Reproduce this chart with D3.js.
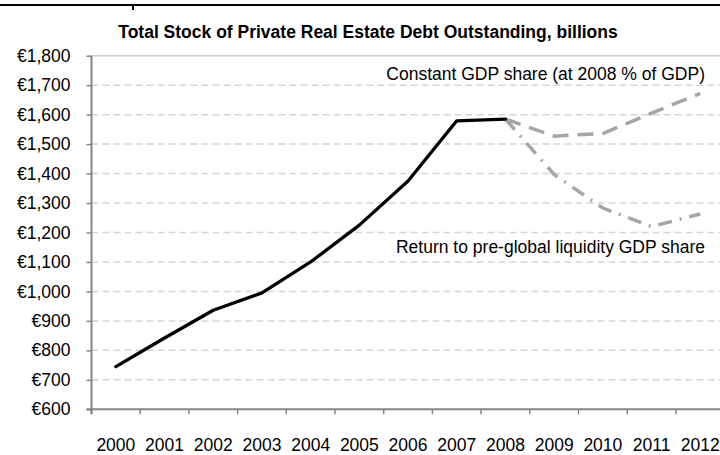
<!DOCTYPE html>
<html>
<head>
<meta charset="utf-8">
<script src="https://cdn.jsdelivr.net/npm/d3@7"></script>
<style>
  html, body { margin: 0; padding: 0; background: #fff; }
  svg { display: block; }
  text { font-family: "Liberation Sans", Arial, sans-serif; fill: #000; }
</style>
</head>
<body>
<svg id="chart" width="720" height="455"></svg>
<script>
// Private real estate debt outstanding, billions of euros
const years = ["2000","2001","2002","2003","2004","2005","2006","2007","2008","2009","2010","2011","2012"];
const actualYears = ["2000","2001","2002","2003","2004","2005","2006","2007","2008"];
const actualValues = [745, 842, 936, 995, 1100, 1225, 1375, 1579, 1585];
const projYears = ["2008","2009","2010","2011","2012"];
const constantShare = [1585, 1527, 1536, 1605, 1672];
const preLiquidityShare = [1585, 1397, 1283, 1220, 1263];
const yTicks = [600, 700, 800, 900, 1000, 1100, 1200, 1300, 1400, 1500, 1600, 1700, 1800];
const title = "Total Stock of Private Real Estate Debt Outstanding, billions";
const labelConstant = "Constant GDP share (at 2008 % of GDP)";
const labelReturn = "Return to pre-global liquidity GDP share";

const svg = d3.select("#chart");
const plotLeft = 91.5, plotBottom = 409.3, plotTop = 55.7, step = 48.7;
const fontFamily = '"Liberation Sans", Arial, sans-serif';
const fontSize = "17.5px";

const x = d3.scaleBand().domain(years).range([plotLeft, plotLeft + step * years.length]).padding(0);
const y = d3.scaleLinear().domain([600, 1800]).range([plotBottom, plotTop]);
const cx = d => x(d) + x.bandwidth() / 2;

// border rule across the top
svg.append("line").attr("x1", 0).attr("x2", 720).attr("y1", 5).attr("y2", 5)
  .attr("stroke", "#000").attr("stroke-width", 2.2);
svg.append("line").attr("x1", 133).attr("x2", 133).attr("y1", 4).attr("y2", 10)
  .attr("stroke", "#000").attr("stroke-width", 2);

// title
svg.append("text").attr("x", 368).attr("y", 38).attr("text-anchor", "middle")
  .style("font-weight", "bold").style("font-size", fontSize).text(title);

// gridlines
svg.append("g").selectAll("line").data(yTicks.filter(t => t > 600)).join("line")
  .attr("x1", plotLeft).attr("x2", 720)
  .attr("y1", d => y(d)).attr("y2", d => y(d))
  .attr("stroke", d => d === 1800 ? "#d0d0d0" : "#d6d6d6")
  .attr("stroke-width", 1.5)
  .attr("stroke-dasharray", d => d === 1800 ? null : "7,4");

// y axis
const yAxis = svg.append("g").attr("transform", `translate(${plotLeft},0)`)
  .call(d3.axisLeft(y).tickValues(yTicks).tickSize(5).tickPadding(16)
    .tickFormat(d => "€" + d3.format(",")(d)));
yAxis.select(".domain").remove();
yAxis.selectAll(".tick line").attr("stroke", "#868686").attr("stroke-width", 1.5);
yAxis.selectAll(".tick text").style("font-size", fontSize).style("font-family", fontFamily);
svg.append("line").attr("x1", plotLeft).attr("x2", plotLeft).attr("y1", plotTop).attr("y2", plotBottom + 5)
  .attr("stroke", "#868686").attr("stroke-width", 2);

// x axis
svg.append("line").attr("x1", plotLeft - 5).attr("x2", 720).attr("y1", plotBottom).attr("y2", plotBottom)
  .attr("stroke", "#868686").attr("stroke-width", 2);
svg.append("g").selectAll("line").data(years).join("line")
  .attr("x1", d => x(d)).attr("x2", d => x(d))
  .attr("y1", plotBottom).attr("y2", plotBottom + 5)
  .attr("stroke", "#868686").attr("stroke-width", 1.5);
const xAxis = svg.append("g").attr("transform", `translate(0,${plotBottom})`)
  .call(d3.axisBottom(x).tickSize(0).tickPadding(29.5));
xAxis.select(".domain").remove();
xAxis.selectAll(".tick text").style("font-size", fontSize).style("font-family", fontFamily);

// series
const line = d3.line().x(d => cx(d[0])).y(d => y(d[1]));
svg.append("path").datum(d3.zip(projYears, constantShare)).attr("d", line)
  .attr("fill", "none").attr("stroke", "#a6a6a6").attr("stroke-width", 3.5)
  .attr("stroke-dasharray", "16,9");
svg.append("path").datum(d3.zip(projYears, preLiquidityShare)).attr("d", line)
  .attr("fill", "none").attr("stroke", "#a6a6a6").attr("stroke-width", 3.5)
  .attr("stroke-dasharray", "14,8,2,8");
svg.append("path").datum(d3.zip(actualYears, actualValues)).attr("d", line)
  .attr("fill", "none").attr("stroke", "#000").attr("stroke-width", 3.3)
  .attr("stroke-linejoin", "round").attr("stroke-linecap", "round");

// annotations
svg.append("text").attr("x", 705).attr("y", 80).attr("text-anchor", "end")
  .style("font-size", fontSize).text(labelConstant);
svg.append("text").attr("x", 705).attr("y", 253).attr("text-anchor", "end")
  .style("font-size", fontSize).text(labelReturn);
</script>
</body>
</html>
